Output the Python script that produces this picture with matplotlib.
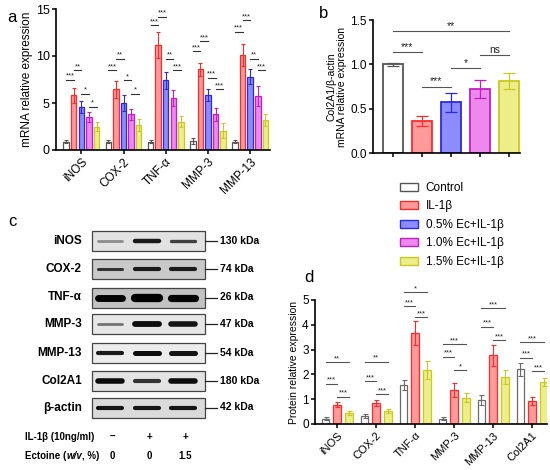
import matplotlib
matplotlib.use("Agg")
import matplotlib.pyplot as plt
import numpy as np
from matplotlib.patches import Rectangle, Patch

plt.rcParams['font.family'] = ['Liberation Sans', 'DejaVu Sans']

# ---------------- data ----------------
groups_a = ["iNOS", "COX-2", "TNF-α", "MMP-3", "MMP-13"]
ctrl_a = [0.9, 0.9, 0.9, 0.95, 0.9]
il_a = [5.8, 6.45, 11.2, 8.6, 10.1]
ec05_a = [4.55, 5.0, 7.4, 5.85, 7.8]
ec10_a = [3.5, 3.8, 5.55, 3.8, 5.75]
ec15_a = [2.5, 2.65, 3.0, 2.05, 3.2]
ctrl_a_err = [0.15, 0.15, 0.15, 0.3, 0.15]
il_a_err = [0.8, 0.9, 1.4, 0.7, 1.2]
ec05_a_err = [0.65, 0.9, 0.9, 0.6, 0.8]
ec10_a_err = [0.5, 0.6, 0.85, 0.7, 1.1]
ec15_a_err = [0.5, 0.6, 0.6, 0.8, 0.65]
# significance (group, bar_i, bar_j, height, label)
sig_a = [
    (0, 0, 1, 7.5, "***"), (0, 1, 2, 8.5, "**"), (0, 2, 3, 6.0, "*"), (0, 3, 4, 4.6, "*"),
    (1, 0, 1, 8.5, "***"), (1, 1, 2, 9.7, "**"), (1, 2, 3, 7.4, "*"), (1, 3, 4, 6.0, "*"),
    (2, 0, 1, 13.3, "***"), (2, 1, 2, 14.2, "***"), (2, 2, 3, 9.7, "**"), (2, 3, 4, 8.5, "***"),
    (3, 0, 1, 10.5, "***"), (3, 1, 2, 11.6, "***"), (3, 2, 3, 7.7, "***"), (3, 3, 4, 6.5, "***"),
    (4, 0, 1, 12.6, "***"), (4, 1, 2, 13.8, "***"), (4, 2, 3, 9.7, "**"), (4, 3, 4, 8.5, "***"),
]

vals_b = [1.0, 0.36, 0.57, 0.72, 0.81]
err_b = [0.02, 0.06, 0.11, 0.10, 0.09]
sig_b = [(0, 4, 1.38, "**"), (0, 1, 1.14, "***"), (1, 2, 0.75, "***"),
         (2, 3, 0.96, "*"), (3, 4, 1.11, "ns")]

legend_labels = ["Control", "IL-1β", "0.5% Ec+IL-1β", "1.0% Ec+IL-1β", "1.5% Ec+IL-1β"]

groups_d = ["iNOS", "COX-2", "TNF-α", "MMP-3", "MMP-13", "Col2A1"]
ctrl_d = [0.22, 0.33, 1.57, 0.22, 0.95, 2.2]
il_d = [0.77, 0.83, 3.67, 1.37, 2.77, 0.92]
ec15_d = [0.43, 0.53, 2.18, 1.05, 1.88, 1.7]
ctrl_d_err = [0.05, 0.07, 0.2, 0.06, 0.2, 0.25]
il_d_err = [0.1, 0.12, 0.5, 0.27, 0.42, 0.15]
ec15_d_err = [0.08, 0.09, 0.38, 0.18, 0.28, 0.17]
sig_d = [
    (0, 0, 1, 1.63, "***"), (0, 1, 2, 1.1, "***"), (0, 0, 2, 2.5, "**"),
    (1, 0, 1, 1.72, "***"), (1, 1, 2, 1.2, "***"), (1, 0, 2, 2.52, "**"),
    (2, 0, 1, 4.76, "***"), (2, 1, 2, 4.3, "***"), (2, 0, 2, 5.32, "*"),
    (3, 0, 1, 2.72, "***"), (3, 1, 2, 2.16, "*"), (3, 0, 2, 3.23, "***"),
    (4, 0, 1, 3.92, "***"), (4, 1, 2, 3.39, "***"), (4, 0, 2, 4.67, "***"),
    (5, 0, 1, 2.67, "***"), (5, 1, 2, 2.12, "***"), (5, 0, 2, 3.29, "***"),
]

blot_proteins = ["iNOS", "COX-2", "TNF-α", "MMP-3", "MMP-13", "Col2A1", "β-actin"]
blot_kda = ["130 kDa", "74 kDa", "26 kDa", "47 kDa", "54 kDa", "180 kDa", "42 kDa"]
blot_bg = ["#e2e2e2", "#c9c9c9", "#c2c2c2", "#e6e6e6", "#ececec", "#e3e3e3", "#dadada"]
# band thickness per lane (px) and darkness
band_width = [[2.0, 3.2, 2.4], [2.2, 3.0, 3.0], [5.0, 6.0, 5.2], [2.0, 4.2, 4.0],
              [3.0, 3.6, 3.6], [4.0, 3.0, 4.0], [3.0, 3.0, 3.0]]
band_dark = [[0.55, 0.1, 0.25], [0.2, 0.1, 0.1], [0.02, 0.0, 0.02], [0.45, 0.05, 0.08],
             [0.1, 0.05, 0.08], [0.05, 0.2, 0.05], [0.08, 0.08, 0.08]]
il_row = ["–", "+", "+"]
ec_row = ["0", "0", "1.5"]

face = ["white", "#ff9a9a", "#8c8cff", "#ee88ee", "#eded8a"]
edge = ["#555555", "#ff2a2a", "#2a2ae0", "#c21fc2", "#c9c91e"]

W, H = 550, 470
fig = plt.figure(figsize=(5.5, 4.7), dpi=100)


def rect(x0, y0, x1, y1):
    return [x0 / W, 1 - y1 / H, (x1 - x0) / W, (y1 - y0) / H]


def style(ax):
    for s in ["top", "right"]:
        ax.spines[s].set_visible(False)
    for s in ["left", "bottom"]:
        ax.spines[s].set_linewidth(1.2)
    ax.tick_params(width=1.1, length=3, pad=1.5)


def sig(ax, x1, x2, y, label, fs=5.5, color="#333333"):
    ax.plot([x1, x2], [y, y], color=color, lw=0.8, clip_on=False)
    ax.text((x1 + x2) / 2, y, label, ha="center", va="bottom", fontsize=fs,
            color="#222222", clip_on=False)


# ---------------- panel a ----------------
ax = fig.add_axes(rect(56, 9, 270, 150))
style(ax)
series_a = [ctrl_a, il_a, ec05_a, ec10_a, ec15_a]
errs_a = [ctrl_a_err, il_a_err, ec05_a_err, ec10_a_err, ec15_a_err]
xa = np.arange(len(groups_a))
step_a = 0.18
for k in range(5):
    xs = xa + (k - 2) * step_a
    ax.bar(xs, series_a[k], width=0.13, color=face[k], edgecolor=edge[k], lw=0.9)
    ax.errorbar(xs, series_a[k], yerr=errs_a[k], fmt="none", ecolor=edge[k],
                elinewidth=0.8, capsize=1.5, capthick=0.8)
for g, i, j, y, lab in sig_a:
    sig(ax, g + (i - 2) * step_a, g + (j - 2) * step_a, y, lab, fs=5.5)
ax.set_xlim(-0.6, 4.47)
ax.set_ylim(0, 15)
ax.set_yticks([0, 5, 10, 15])
ax.set_xticks(xa)
ax.set_xticklabels(groups_a, rotation=45, ha="right", rotation_mode="anchor", fontsize=8.5)
ax.tick_params(axis="y", labelsize=9)
ax.set_ylabel("mRNA relative expression", fontsize=8.5, labelpad=2)
fig.text(7 / W, 1 - 17 / H, "a", fontsize=12, va="center")

# ---------------- panel b ----------------
ax = fig.add_axes(rect(373, 20, 520, 153))
style(ax)
xb = np.arange(len(vals_b))
for k in range(5):
    ax.bar(xb[k], vals_b[k], width=0.68, color=face[k], edgecolor=edge[k], lw=1.3)
    ax.errorbar(xb[k], vals_b[k], yerr=err_b[k], fmt="none", ecolor=edge[k],
                elinewidth=0.9, capsize=4, capthick=0.9)
for i, j, y, lab in sig_b:
    sig(ax, i, j, y, lab, fs=7.5, color="#555555")
ax.set_xlim(-0.68, 4.37)
ax.set_ylim(0, 1.5)
ax.set_yticks([0, 0.5, 1.0, 1.5])
ax.set_yticklabels(["0.0", "0.5", "1.0", "1.5"])
ax.set_xticks(xb)
ax.set_xticklabels([])
ax.tick_params(axis="y", labelsize=8.5)
ax.set_ylabel("Col2A1/β-actin\nmRNA relative expression", fontsize=7.5, labelpad=2,
              linespacing=1.1)
fig.text(319 / W, 1 - 14 / H, "b", fontsize=12, va="center")

handles = [Patch(facecolor=face[k], edgecolor=edge[k], lw=1.0) for k in range(5)]
fig.legend(handles, legend_labels, loc="upper left",
           bbox_to_anchor=(394 / W, 1 - 176 / H), frameon=False, fontsize=8.5,
           handlelength=1.5, handleheight=0.7, labelspacing=0.55, handletextpad=0.7,
           borderpad=0)

# ---------------- panel d ----------------
ax = fig.add_axes(rect(315, 300, 547, 424))
style(ax)
series_d = [ctrl_d, il_d, ec15_d]
errs_d = [ctrl_d_err, il_d_err, ec15_d_err]
face_d = [face[0], face[1], face[4]]
edge_d = ["#6a6a6a", edge[1], edge[4]]
xd = np.arange(len(groups_d))
step_d = 0.3
for k in range(3):
    xs = xd + (k - 1) * step_d
    ax.bar(xs, series_d[k], width=0.2, color=face_d[k], edgecolor=edge_d[k], lw=0.9)
    ax.errorbar(xs, series_d[k], yerr=errs_d[k], fmt="none", ecolor=edge_d[k],
                elinewidth=0.8, capsize=1.8, capthick=0.8)
for g, i, j, y, lab in sig_d:
    sig(ax, g + (i - 1) * step_d, g + (j - 1) * step_d, y, lab, fs=5.5, color="#555555")
ax.set_xlim(-0.57, 5.38)
ax.set_ylim(0, 5)
ax.set_yticks(range(6))
ax.set_xticks(xd)
ax.set_xticklabels(groups_d, rotation=45, ha="right", rotation_mode="anchor", fontsize=8)
ax.tick_params(axis="y", labelsize=8.5)
ax.set_ylabel("Protein relative expression", fontsize=7.5, labelpad=2)
fig.text(304 / W, 1 - 277 / H, "d", fontsize=12, va="center")

# ---------------- panel c (blot) ----------------
bx = fig.add_axes([0, 0, 1, 1], zorder=-1)
bx.set_xlim(0, W)
bx.set_ylim(H, 0)
bx.axis("off")
bx.text(8, 222, "c", fontsize=12, va="center")
lanes = [110, 147, 183]
row_y = [241, 268.5, 297.5, 324, 353, 381, 407.5]
for r, name in enumerate(blot_proteins):
    yc = row_y[r]
    bx.add_patch(Rectangle((92, yc - 10), 113, 20, facecolor=blot_bg[r],
                           edgecolor="#444444", lw=0.9))
    for ln in range(3):
        d = band_dark[r][ln]
        bx.plot([lanes[ln] - 12, lanes[ln] + 12], [yc, yc], color=str(d),
                lw=band_width[r][ln], solid_capstyle="round")
    bx.text(82, yc, name, ha="right", va="center", fontsize=8.5, fontweight="bold")
    bx.plot([205, 217], [yc, yc], color="#222222", lw=0.9)
    bx.text(220, yc, blot_kda[r], ha="left", va="center", fontsize=7.5, fontweight="bold")

bx.text(25, 437, "IL-1β (10ng/ml)", ha="left", va="center", fontsize=7,
        fontweight="bold")
t2 = bx.text(25, 456, "Ectoine (", ha="left", va="center", fontsize=7, fontweight="bold")
t3 = bx.annotate("w/v", xy=(1, 0), xycoords=t2, ha="left", va="bottom", fontsize=7,
                 fontweight="bold", style="italic")
bx.annotate(", %)", xy=(1, 0), xycoords=t3, ha="left", va="bottom", fontsize=7,
            fontweight="bold")
for ln in range(3):
    bx.text(lanes[ln] + 2, 437, il_row[ln], ha="center", va="center", fontsize=7,
            fontweight="bold")
    bx.text(lanes[ln] + 2, 456, ec_row[ln], ha="center", va="center", fontsize=7,
            fontweight="bold")

fig.savefig("out.png", dpi=100)
